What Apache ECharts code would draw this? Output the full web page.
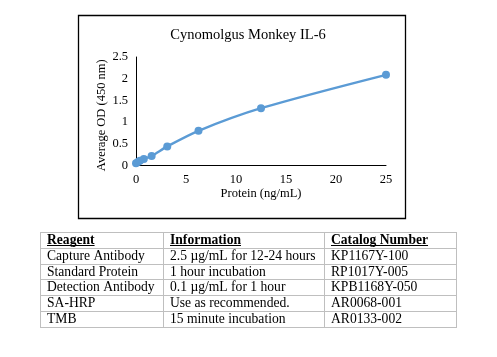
<!DOCTYPE html>
<html><head><meta charset="utf-8">
<script src="https://cdn.jsdelivr.net/npm/echarts@6/dist/echarts.min.js"></script>
<style>html,body{margin:0;padding:0;background:#fff}#c{width:497px;height:357px}</style>
</head><body><div id="c"></div>
<script>
const concentrations = [0, 0.195, 0.39, 0.78, 1.5625, 3.125, 6.25, 12.5, 25];
const odValues = [0.05, 0.08, 0.11, 0.15, 0.22, 0.44, 0.80, 1.32, 2.09];
const xTicks = [0, 5, 10, 15, 20, 25];
const yTicks = [0, 0.5, 1, 1.5, 2, 2.5];
const tableHeader = ['Reagent', 'Information', 'Catalog Number'];
const reagents = ['Capture Antibody', 'Standard Protein', 'Detection Antibody', 'SA-HRP', 'TMB'];
const information = ['2.5 µg/mL for 12-24 hours', '1 hour incubation', '0.1 µg/mL for 1 hour', 'Use as recommended.', '15 minute incubation'];
const catalogNumbers = ['KP1167Y-100', 'RP1017Y-005', 'KPB1168Y-050', 'AR0068-001', 'AR0133-002'];

const FONT = '"Liberation Serif", serif';
const TFS = 13.6;
const tbl = {x: 40, y: 232, colX: [40, 163, 324, 456], rowH: 15.8};
const graphics = [];
graphics.push({type:'rect', shape:{x:78.5, y:15.5, width:327, height:203}, style:{fill:'none', stroke:'#000', lineWidth:1.3}, z:-1});
const rows = [tableHeader].concat(reagents.map((r,i)=>[r, information[i], catalogNumbers[i]]));
const nRows = rows.length;
const yTop = tbl.y, yBot = tbl.y + nRows*tbl.rowH;
for (let i=0;i<=nRows;i++){
  const y = Math.round(yTop + i*tbl.rowH)+0.5;
  graphics.push({type:'line', shape:{x1:tbl.colX[0], y1:y, x2:tbl.colX[3]+1, y2:y}, style:{stroke:'#bfbfbf', lineWidth:1}});
}
tbl.colX.forEach(x=>{
  graphics.push({type:'line', shape:{x1:x+0.5, y1:Math.round(yTop)+0.5, x2:x+0.5, y2:Math.round(yBot)+0.5}, style:{stroke:'#bfbfbf', lineWidth:1}});
});
rows.forEach((row,i)=>{
  row.forEach((txt,j)=>{
    graphics.push({type:'text', x:tbl.colX[j]+7, y:yTop + i*tbl.rowH + tbl.rowH/2 + 0.5,
      style:{text:txt, font:(i===0?'bold ':'')+TFS+'px '+FONT, fill:'#000', verticalAlign:'middle', textAlign:'left'}});
  });
});
const ctxM = document.createElement('canvas').getContext('2d');
ctxM.font = 'bold ' + TFS + 'px ' + FONT;
tableHeader.forEach((t,j)=>{
  const w = ctxM.measureText(t).width;
  const y = yTop + 13.5;
  graphics.push({type:'line', shape:{x1:tbl.colX[j]+7, y1:y, x2:tbl.colX[j]+7+w, y2:y}, style:{stroke:'#000', lineWidth:1}});
});

const chart = echarts.init(document.getElementById('c'), null, {renderer:'canvas'});
chart.setOption({
  animation:false,
  title:{text:'Cynomolgus Monkey IL-6', left:243, top:23, textAlign:'center',
    textStyle:{fontFamily:FONT, fontSize:14.5, fontWeight:'normal', color:'#000'}},
  grid:{left:136, right:111, top:57, bottom:191.5},
  xAxis:{type:'value', min:0, max:25, interval:5,
    name:'Protein (ng/mL)', nameLocation:'middle', nameGap:19,
    nameTextStyle:{fontFamily:FONT, fontSize:12.5, color:'#000'},
    axisLine:{lineStyle:{color:'#000', width:1}}, axisTick:{show:false}, splitLine:{show:false},
    axisLabel:{fontFamily:FONT, fontSize:12.5, color:'#000', margin:8}},
  yAxis:{type:'value', min:0, max:2.5, interval:0.5,
    name:'Average OD (450 nm)', nameLocation:'middle', nameGap:28, nameMoveOverlap:false,
    nameTextStyle:{fontFamily:FONT, fontSize:12.5, color:'#000', padding:[0,0,0,-8]},
    axisLine:{show:true, lineStyle:{color:'#000', width:1}}, axisTick:{show:false}, splitLine:{show:false},
    axisLabel:{fontFamily:FONT, fontSize:12.5, color:'#000', margin:8}},
  series:[{type:'line', data:concentrations.map((c,i)=>[c, odValues[i]]), smooth:0.3,
    symbol:'circle', symbolSize:8, lineStyle:{color:'#5b9bd5', width:2.4},
    itemStyle:{color:'#5b9bd5'}}],
  graphic:graphics
});
</script></body></html>
